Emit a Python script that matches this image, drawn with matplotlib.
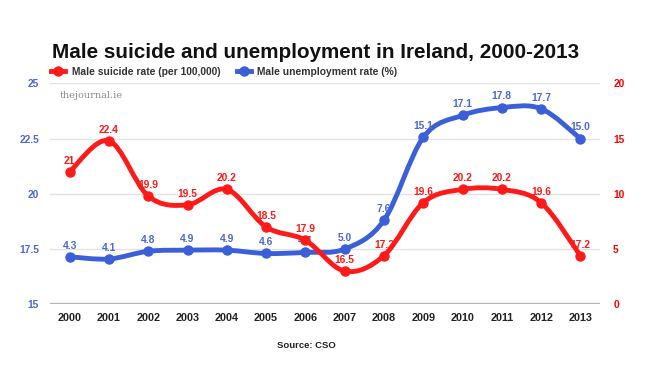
import numpy as np
import matplotlib
matplotlib.use("Agg")
import matplotlib.pyplot as plt
from matplotlib.path import Path
from matplotlib.patches import PathPatch
from matplotlib.lines import Line2D

plt.rcParams['font.family'] = ['Liberation Sans', 'DejaVu Sans']

# data
years = ['2000', '2001', '2002', '2003', '2004', '2005', '2006',
         '2007', '2008', '2009', '2010', '2011', '2012', '2013']
suicide = [21.0, 22.4, 19.9, 19.5, 20.2, 18.5, 17.9, 16.5, 17.2, 19.6, 20.2, 20.2, 19.6, 17.2]
suicide_lbl = ['21', '22.4', '19.9', '19.5', '20.2', '18.5', '17.9', '16.5', '17.2',
               '19.6', '20.2', '20.2', '19.6', '17.2']
unemp = [4.3, 4.1, 4.8, 4.9, 4.9, 4.6, 4.7, 5.0, 7.6, 15.1, 17.1, 17.8, 17.7, 15.0]
unemp_lbl = ['4.3', '4.1', '4.8', '4.9', '4.9', '4.6', '4.7', '5.0', '7.6',
             '15.1', '17.1', '17.8', '17.7', '15.0']
left_ticks = [15, 17.5, 20, 22.5, 25]
left_tick_lbl = ['15', '17.5', '20', '22.5', '25']
right_ticks = [0, 5, 10, 15, 20]

RED = '#ff1a1a'
BLUE = '#3b5fd8'
BLUE_TXT = '#4a68d8'


def smooth_path(x, y, s=1/6):
    # catmull-rom style bezier through the data points
    x = np.asarray(x, float)
    y = np.asarray(y, float)
    n = len(x)
    verts = [(x[0], y[0])]
    codes = [Path.MOVETO]
    for i in range(n - 1):
        i0 = max(i - 1, 0)
        i3 = min(i + 2, n - 1)
        c1 = (x[i] + (x[i + 1] - x[i0]) * s, y[i] + (y[i + 1] - y[i0]) * s)
        c2 = (x[i + 1] - (x[i3] - x[i]) * s, y[i + 1] - (y[i3] - y[i]) * s)
        verts += [c1, c2, (x[i + 1], y[i + 1])]
        codes += [Path.CURVE4] * 3
    return Path(verts, codes)


fig = plt.figure(figsize=(6.5, 3.88), dpi=100)
ax = fig.add_axes([50/650, 1 - 304.3/388, 550/650, 221/388])
ax2 = ax.twinx()

xs = np.arange(len(years))

ax.set_xlim(-0.5, len(years) - 0.5)
ax.set_ylim(15, 25)
ax2.set_ylim(0, 20)

for t in left_ticks[1:]:
    ax.axhline(t, color='#e3e3e3', lw=1, zorder=0)
ax.axhline(15, color='#b5b5b5', lw=1.6, zorder=1)

for a in (ax, ax2):
    for sp in a.spines.values():
        sp.set_visible(False)

ax.set_xticks(xs)
ax.set_xticklabels(years, fontsize=7.8, fontweight='bold', color='#222222')
ax.set_yticks(left_ticks)
ax.set_yticklabels(left_tick_lbl, fontsize=7.4, fontweight='bold', color=BLUE_TXT)
ax2.set_yticks(right_ticks)
ax2.set_yticklabels([str(t) for t in right_ticks], fontsize=7.4, fontweight='bold', color='#ff0000')
ax.tick_params(axis='x', length=0, pad=6.5)
ax.tick_params(axis='y', length=0, pad=8)
ax2.tick_params(axis='y', length=0, pad=9.5)

# blue line (right axis) drawn first, red on top
ax2.add_patch(PathPatch(smooth_path(xs, unemp), fill=False, edgecolor=BLUE, lw=3.5,
                        capstyle='round', joinstyle='round', zorder=3))
ax2.plot(xs, unemp, 'o', color=BLUE, ms=6.5, zorder=4)
for xi, v, s in zip(xs, unemp, unemp_lbl):
    ax2.annotate(s, (xi, v), xytext=(0, 8), textcoords='offset points', ha='center',
                 va='center', fontsize=7.4, fontweight='bold', color=BLUE_TXT, zorder=5)

ax2.add_patch(PathPatch(smooth_path(xs, suicide), fill=False, edgecolor=RED, lw=3.5,
                        capstyle='round', joinstyle='round', zorder=6,
                        transform=ax.transData))
ax2.plot(xs, suicide, 'o', color=RED, ms=6.5, zorder=7, transform=ax.transData)
for xi, v, s in zip(xs, suicide, suicide_lbl):
    ax2.annotate(s, (xi, v), xycoords=ax.transData, xytext=(0, 8), textcoords='offset points',
                 ha='center', va='center', fontsize=7.4, fontweight='bold', color=RED, zorder=8)

# title, legend, watermark, source
fig.text(52/650, 1 - 52/388, 'Male suicide and unemployment in Ireland, 2000-2013',
         fontsize=14.9, fontweight='bold', color='#111111', va='center', ha='left')

h1 = Line2D([], [], color=RED, lw=3.5, marker='o', ms=6.5)
h2 = Line2D([], [], color=BLUE, lw=3.5, marker='o', ms=6.5)
fig.legend([h1, h2], ['Male suicide rate (per 100,000)', 'Male unemployment rate (%)'],
           loc='center left', bbox_to_anchor=(51/650, 1 - 72/388), ncol=2, frameon=False,
           handlelength=1.4, handletextpad=0.6, columnspacing=1.6,
           prop={'size': 7.4, 'weight': 'bold'}, labelcolor='#333333', borderaxespad=0,
           borderpad=0)

fig.text(60/650, 1 - 95/388, 'thejournal.ie', fontsize=7, family='DejaVu Serif',
         color='#8a8a8a', va='center', ha='left')
fig.text(306/650, 1 - 345/388, 'Source: CSO', fontsize=6.8, fontweight='bold',
         color='#222222', ha='center', va='center')

fig.savefig('out.png', dpi=100)
